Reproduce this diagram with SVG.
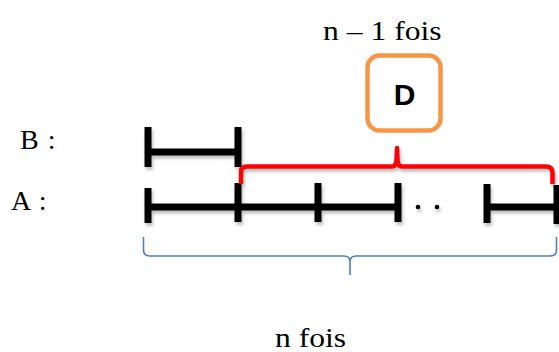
<svg xmlns="http://www.w3.org/2000/svg" width="559" height="352" viewBox="0 0 559 352">
<defs>
<filter id="sh" x="-20%" y="-20%" width="140%" height="160%">
<feDropShadow dx="1.5" dy="3" stdDeviation="1.5" flood-color="#000" flood-opacity="0.25"/>
</filter>
</defs>
<style>
.lbl{font-family:"Liberation Serif","Times New Roman",serif;font-size:28px;fill:#000}
.seg{stroke:#000;stroke-width:7;fill:none;stroke-linecap:butt}
.red{stroke:#FF0000;stroke-width:4.5;fill:none;stroke-linejoin:round}
.blue{stroke:#4F81BD;stroke-width:1.6;fill:none}
.box{fill:#fff;stroke:#F79646;stroke-width:4.5}
.d{font-family:"Liberation Sans",Arial,sans-serif;font-weight:bold;font-size:30px;fill:#000}
</style>
<g id="labels">
<text class="lbl" x="20" y="149">B <tspan dx="2">:</tspan></text>
<text class="lbl" x="11" y="210">A <tspan dx="2">:</tspan></text>
<text class="lbl" transform="translate(323 40) scale(1.13 1)">n – 1 fois</text>
<text class="lbl" transform="translate(275 347) scale(1.13 1)">n fois</text>
</g>
<g id="B" filter="url(#sh)">
<path class="seg" d="M148 127V167M238 127V167M148 152H238"/>
</g>
<g id="A" filter="url(#sh)">
<path class="seg" d="M148 188V223M238 183V222M318 183V222M398 183V222M148 207H398"/>
<circle cx="418" cy="207" r="2.3" fill="#000"/>
<circle cx="437" cy="207" r="2.3" fill="#000"/>
<path class="seg" d="M487 184V223M557 185V224M487 207H559"/>
</g>
<g id="D">
<rect class="box" x="367.5" y="55.5" width="73" height="75" rx="12"/>
<text class="d" x="404.5" y="105" text-anchor="middle">D</text>
</g>
<g id="connectors">
<path class="red" filter="url(#sh)" d="M241 184V172Q241 166.5 247 166.5H392Q396 166.5 396.5 160L397 148L397.5 160Q398 166.5 402 166.5H546Q552.5 166.5 552.5 173V184"/>
<path class="blue" d="M143.5 237V250Q143.5 256 150 256H344Q350 256 350 262V275V262Q350 256 356 256H550Q556.5 256 556.5 250V237"/>
</g>
</svg>
